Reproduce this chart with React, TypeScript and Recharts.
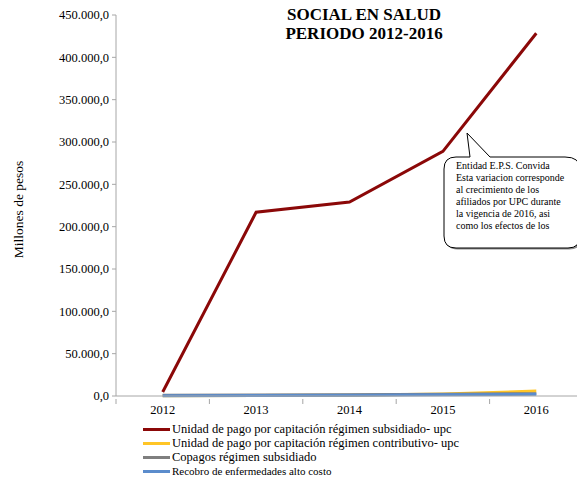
import { LineChart, Line, XAxis, YAxis, Label } from 'recharts'

const years = ['2012', '2013', '2014', '2015', '2016']
const upcSubsidiado = [4700, 217000, 229000, 289000, 428500]
const upcContributivo = [300, 700, 1000, 2500, 5800]
const copagos = [800, 1200, 1500, 2200, 2800]
const recobro = [300, 600, 900, 1400, 2000]
const yTicks = [0, 50000, 100000, 150000, 200000, 250000, 300000, 350000, 400000, 450000]

const seriesNames = [
  'Unidad de pago por capitación régimen subsidiado- upc',
  'Unidad de pago por capitación régimen contributivo- upc',
  'Copagos régimen subsidiado',
  'Recobro de enfermedades alto costo',
]
const seriesColors = ['#8b0808', '#ffc526', '#7f7f7f', '#5b8ccc']

const calloutLines = [
  'Entidad E.P.S. Convida',
  'Esta variacion corresponde',
  'al crecimiento de los',
  'afiliados por UPC durante',
  'la vigencia de 2016, asi',
  'como los efectos de los',
]

const serif = "'Liberation Serif', Tinos, 'DejaVu Serif', serif"
const HALF_BAND = (583 - 116) / 10
const CALLOUT =
  'M 456 157 L 470 157 L 467 133 L 490 157 L 565 157 Q 580 157 580 169 L 580 236 Q 580 248 568 248 L 456 248 Q 444 248 444 236 L 444 169 Q 444 157 456 157 Z'

const chartData = years.map((year, i) => ({
  year,
  subsidiado: upcSubsidiado[i],
  contributivo: upcContributivo[i],
  copagos: copagos[i],
  recobro: recobro[i],
}))

// 450000 -> "450.000,0"
function formatPesos(v: number) {
  const s = Math.round(v).toString().replace(/\B(?=(\d{3})+(?!\d))/g, '.')
  return s + ',0'
}

function YearTick(props: any) {
  const { x, y, payload, index } = props
  return (
    <g>
      <line x1={x - HALF_BAND} y1={y - 5} x2={x - HALF_BAND} y2={y} stroke="#a6a6a6" />
      {index === years.length - 1 && (
        <line x1={x + HALF_BAND} y1={y - 5} x2={x + HALF_BAND} y2={y} stroke="#a6a6a6" />
      )}
      <text x={x} y={y + 10} textAnchor="middle" style={{ fontFamily: serif }} fontSize={12.5} fill="#000">
        {payload.value}
      </text>
    </g>
  )
}

export default function App() {
  return (
    <div style={{ position: 'absolute', left: 0, top: 0, width: 577, height: 477, overflow: 'hidden', background: '#fff', fontFamily: serif }}>
      <LineChart width={600} height={477} data={chartData} margin={{ top: 15, right: 17, left: 0, bottom: 51 }} style={{ fontFamily: serif }}>
        <XAxis
          dataKey="year"
          padding={{ left: HALF_BAND, right: HALF_BAND }}
          stroke="#a6a6a6"
          tickLine={false}
          tick={<YearTick />}
          height={30}
        />
        <YAxis
          domain={[0, 450000]}
          ticks={yTicks}
          width={116}
          stroke="#a6a6a6"
          tickSize={4}
          tickMargin={3}
          tickFormatter={formatPesos}
          tick={{ fill: '#000', fontSize: 12.5, style: { fontFamily: serif } }}
        >
          <Label
            value="Millones  de pesos"
            angle={-90}
            position="insideLeft"
            offset={18}
            dy={4}
            style={{ fill: '#000', fontFamily: serif, fontSize: 13.5, textAnchor: 'middle' }}
          />
        </YAxis>
        <Line dataKey="subsidiado" stroke={seriesColors[0]} strokeWidth={3} dot={false} isAnimationActive={false} />
        <Line dataKey="contributivo" stroke={seriesColors[1]} strokeWidth={3} dot={false} isAnimationActive={false} />
        <Line dataKey="copagos" stroke={seriesColors[2]} strokeWidth={3} dot={false} isAnimationActive={false} />
        <Line dataKey="recobro" stroke={seriesColors[3]} strokeWidth={3} dot={false} isAnimationActive={false} />
      </LineChart>

      <svg width={577} height={477} style={{ position: 'absolute', left: 0, top: 0, pointerEvents: 'none', fontFamily: serif }}>
        <g fontWeight="bold" fontSize={17} textAnchor="middle" fill="#000">
          <text x={364} y={20}>SOCIAL EN SALUD</text>
          <text x={364} y={39}>PERIODO 2012-2016</text>
        </g>

        {/* callout with a light shadow */}
        <path d={CALLOUT} transform="translate(1.5,1.5)" fill="#8c8c8c" />
        <path d={CALLOUT} fill="#fff" stroke="#000" strokeWidth={1} />
        <g fontSize={10} fill="#000">
          {calloutLines.map((t, i) => (
            <text key={i} x={456} y={169 + i * 12}>
              {t}
            </text>
          ))}
        </g>
      </svg>

      {/* legend */}
      <div style={{ position: 'absolute', left: 143, top: 422, color: '#000' }}>
        {seriesNames.map((name, i) => (
          <div key={i} style={{ display: 'flex', alignItems: 'center', height: 14, fontSize: i === 3 ? 11 : 12.5, whiteSpace: 'nowrap' }}>
            <span style={{ display: 'inline-block', width: 27, height: 3, background: seriesColors[i], marginRight: 2 }} />
            <span>{name}</span>
          </div>
        ))}
      </div>
    </div>
  )
}
